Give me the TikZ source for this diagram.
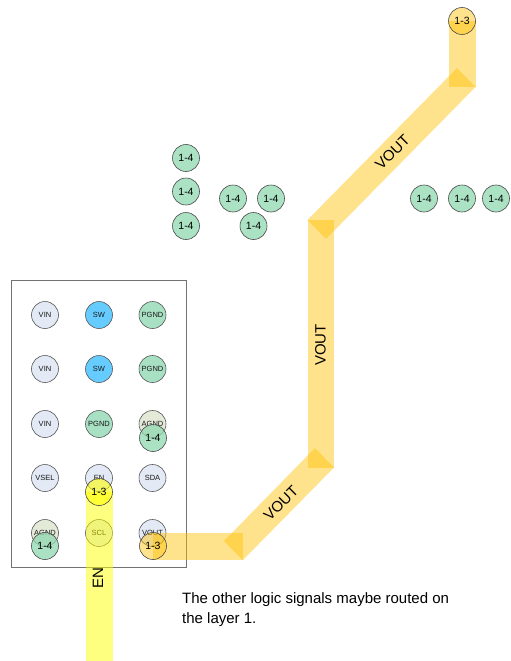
\documentclass[tikz,border=0pt]{standalone}
\usepackage{fontspec}
\setmainfont{Liberation Sans}
\definecolor{bluepad}{HTML}{E3EAF5}
\definecolor{swpad}{HTML}{66CCFF}
\definecolor{gndpad}{HTML}{A8E0C4}
\definecolor{agndpad}{HTML}{E4EAD8}
\definecolor{viagreen}{HTML}{8FD8B0}
\definecolor{trace}{HTML}{FFC000}
\definecolor{enbar}{HTML}{FFFF00}
\tikzset{
  x=1pt,y=-1pt,
  pad/.style={circle,draw=black!65,line width=.6pt,minimum size=27pt,inner sep=0pt,font=\fontsize{7.5}{7.5}\selectfont,text=black!90},
  viaG/.style={circle,draw=black!70,line width=.6pt,minimum size=27pt,inner sep=0pt,font=\fontsize{10.5}{10.5}\selectfont,fill=viagreen,fill opacity=.75,text opacity=1},
  viaO/.style={viaG,fill=trace,fill opacity=.45},
  viaY/.style={viaG,fill=enbar,fill opacity=.6},
  tracefill/.style={fill=trace,fill opacity=.45,draw=none},
  enfill/.style={fill=enbar,fill opacity=.5,draw=none},
  lab/.style={font=\fontsize{15}{15}\selectfont,inner sep=0pt},
}
\begin{document}
\begin{tikzpicture}
\useasboundingbox (0,0) rectangle (511,661);
\node[draw=black!55,line width=.7pt,minimum width=175pt,minimum height=287pt,inner sep=0pt] (board) at (98.5,423.5) {};
% pads
\node[pad,fill=bluepad] (p11) at (45,315) {VIN};
\node[pad,fill=swpad] (p12) at (99,315) {SW};
\node[pad,fill=gndpad] (p13) at (152.5,315) {PGND};
\node[pad,fill=bluepad] (p21) at (45,369) {VIN};
\node[pad,fill=swpad] (p22) at (99,369) {SW};
\node[pad,fill=gndpad] (p23) at (152.5,369) {PGND};
\node[pad,fill=bluepad] (p31) at (45,424) {VIN};
\node[pad,fill=gndpad] (p32) at (99,424) {PGND};
\node[pad,fill=agndpad] (p33) at (152.5,424) {AGND};
\node[pad,fill=bluepad] (p41) at (45,478) {VSEL};
\node[pad,fill=bluepad] (p42) at (99,478) {EN};
\node[pad,fill=bluepad] (p43) at (152.5,478) {SDA};
\node[pad,fill=agndpad] (p51) at (45,533) {AGND};
\node[pad,fill=bluepad] (p52) at (99,533) {SCL};
\node[pad,fill=bluepad] (p53) at (152.5,533) {VOUT};
% traces
\coordinate (a1) at (448.5,21); \coordinate (a2) at (475.5,21);
\coordinate (a3) at (475.5,87); \coordinate (a4) at (448.5,87);
\coordinate (b1) at (457,68); \coordinate (b2) at (475.5,87);
\coordinate (b3) at (326,239); \coordinate (b4) at (307.5,220);
\coordinate (c1) at (307.5,220); \coordinate (c2) at (334,220);
\coordinate (c3) at (334,467.5); \coordinate (c4) at (307.5,467.5);
\coordinate (d1) at (315,448); \coordinate (d2) at (334,467.5);
\coordinate (d3) at (243,560); \coordinate (d4) at (224,541);
\coordinate (e1) at (153,533); \coordinate (e2) at (243,533);
\coordinate (e3) at (243,560); \coordinate (e4) at (153,560);
\fill[tracefill] (a1) -- (a2) -- (a3) -- (a4) -- cycle;
\fill[tracefill] (b1) -- (b2) -- (b3) -- (b4) -- cycle;
\fill[tracefill] (c1) -- (c2) -- (c3) -- (c4) -- cycle;
\fill[tracefill] (d1) -- (d2) -- (d3) -- (d4) -- cycle;
\fill[tracefill] (e1) -- (e2) -- (e3) -- (e4) -- cycle;
\coordinate (f1) at (85.5,492); \coordinate (f2) at (112.5,492);
\coordinate (f3) at (112.5,661); \coordinate (f4) at (85.5,661);
\fill[enfill] (f1) -- (f2) -- (f3) -- (f4) -- cycle;
% vias
\node[viaG] (v1) at (186,158) {1-4};
\node[viaG] (v2) at (186,191.5) {1-4};
\node[viaG] (v3) at (186,226) {1-4};
\node[viaG] (v4) at (233,198.5) {1-4};
\node[viaG] (v5) at (271,198.5) {1-4};
\node[viaG] (v6) at (253.5,226) {1-4};
\node[viaG] (v7) at (424,198.5) {1-4};
\node[viaG] (v8) at (462,198.5) {1-4};
\node[viaG] (v9) at (496,198.5) {1-4};
\node[viaG] (v10) at (153,438) {1-4};
\node[viaG] (v11) at (45,546) {1-4};
\node[viaO] (v12) at (462,21) {1-3};
\node[viaO] (v13) at (153,546) {1-3};
\node[viaY] (v14) at (99,492) {1-3};
% labels
\node[lab,rotate=45] (l1) at (392.5,152) {VOUT};
\node[lab,rotate=90] (l2) at (320.5,345) {VOUT};
\node[lab,rotate=45] (l3) at (281,503) {VOUT};
\node[lab,rotate=90] (l4) at (98,578) {EN};
\node[font=\fontsize{15}{20}\selectfont,align=left,anchor=north west,inner sep=0pt] (note) at (182,592) {The other logic signals maybe routed on\\the layer 1.};
\end{tikzpicture}
\end{document}
